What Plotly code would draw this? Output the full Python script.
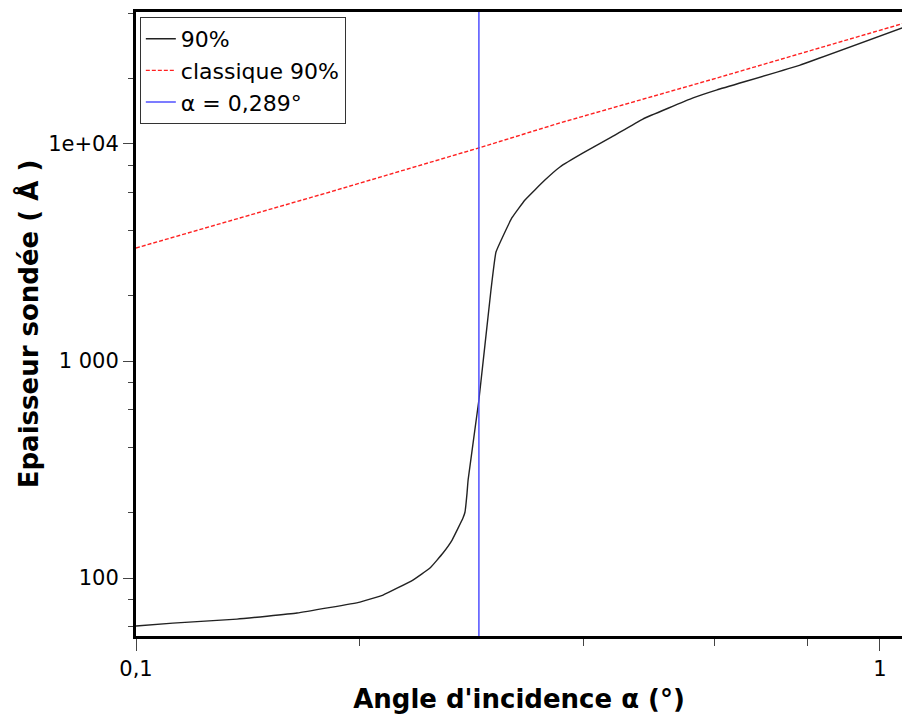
import plotly.graph_objects as go

# Black curve "90%"
angle_90 = [0.1, 0.1121, 0.1367, 0.1646, 0.2, 0.2148, 0.2356, 0.2484, 0.2586, 0.266,
            0.2751, 0.2768, 0.2786, 0.2795, 0.289, 0.300, 0.3047, 0.320, 0.3333,
            0.3545, 0.3714, 0.399, 0.436, 0.480, 0.5608, 0.604, 0.781, 1.071]
depth_90 = [60.1, 62.0, 64.7, 69.0, 77.5, 83.5, 97.9, 111.2, 130.4, 149.6,
            189, 201, 247, 283, 661, 2124, 3177, 4560, 5520,
            6820, 7835, 9090, 10770, 13030, 16300, 17750, 23100, 34240]

# Red dashed "classique 90%"
angle_cl = [0.1, 0.1823, 0.289, 0.3714, 0.604, 1.0, 1.071]
depth_cl = [3317, 6010, 9590, 12500, 20140, 33500, 35800]

# Blue vertical line at critical angle
alpha_c = [0.289, 0.289]
alpha_c_y = [30, 80000]

x_tickvals = [0.1, 1]
x_ticktext = ["0,1", "1"]
x_minor = [0.2, 0.4, 0.6, 0.8]
y_tickvals = [100, 1000, 10000]
y_ticktext = ["100", "1 000", "1e+04"]
y_minor = [60, 80, 200, 400, 600, 800, 2000, 4000, 6000, 8000, 20000, 40000]

FONT = "DejaVu Sans"

fig = go.Figure()
fig.add_trace(go.Scatter(x=angle_90, y=depth_90, mode="lines", name="90%",
                         line=dict(color="#222222", width=1.4, shape="spline", smoothing=0.3)))
fig.add_trace(go.Scatter(x=angle_cl, y=depth_cl, mode="lines", name="classique 90%",
                         line=dict(color="#ff2020", width=1.4, dash="4px,2px")))
fig.add_trace(go.Scatter(x=alpha_c, y=alpha_c_y, mode="lines", name="α = 0,289°",
                         line=dict(color="#5050ff", width=1.5)))

fig.update_layout(
    width=902, height=718,
    margin=dict(l=136, r=0, t=12, b=82),
    paper_bgcolor="white", plot_bgcolor="white",
    font=dict(family=FONT, size=21, color="black"),
    showlegend=True,
    legend=dict(x=0.005, y=0.992, xanchor="left", yanchor="top",
                bordercolor="#333333", borderwidth=1, bgcolor="white",
                font=dict(family=FONT, size=22, color="black"),
                tracegroupgap=0, itemwidth=30),
    xaxis=dict(type="log", range=[-1.0, 0.0296], automargin=False,
               tickvals=x_tickvals, ticktext=x_ticktext,
               ticks="outside", ticklen=12, tickwidth=1, tickcolor="#444444",
               minor=dict(tickvals=x_minor, ticks="outside", ticklen=7,
                          tickwidth=1, tickcolor="#444444", showgrid=False),
               showgrid=False, zeroline=False,
               showline=True, linewidth=3, linecolor="black", mirror=True,
               tickfont=dict(family=FONT, size=21, color="black"),
               title=dict(text="Angle d'incidence α (°)",
                          font=dict(family=FONT, size=26, color="black", weight="bold"),
                          standoff=10)),
    yaxis=dict(type="log", range=[1.733, 4.608], automargin=False,
               tickvals=y_tickvals, ticktext=y_ticktext,
               ticks="outside", ticklen=10, tickwidth=1, tickcolor="#444444",
               minor=dict(tickvals=y_minor, ticks="outside", ticklen=5,
                          tickwidth=1, tickcolor="#444444", showgrid=False),
               showgrid=False, zeroline=False,
               showline=True, linewidth=3, linecolor="black", mirror=False,
               tickfont=dict(family=FONT, size=21, color="black"),
               title=dict(text="Epaisseur sondée ( Å )",
                          font=dict(family=FONT, size=26, color="black", weight="bold"),
                          standoff=3)),
)

fig.write_html("out.html",
               config={"displayModeBar": False},
               post_script="document.body.style.margin='0px';"
                           "document.body.style.overflow='hidden';"
                           "document.documentElement.style.overflow='hidden';")
